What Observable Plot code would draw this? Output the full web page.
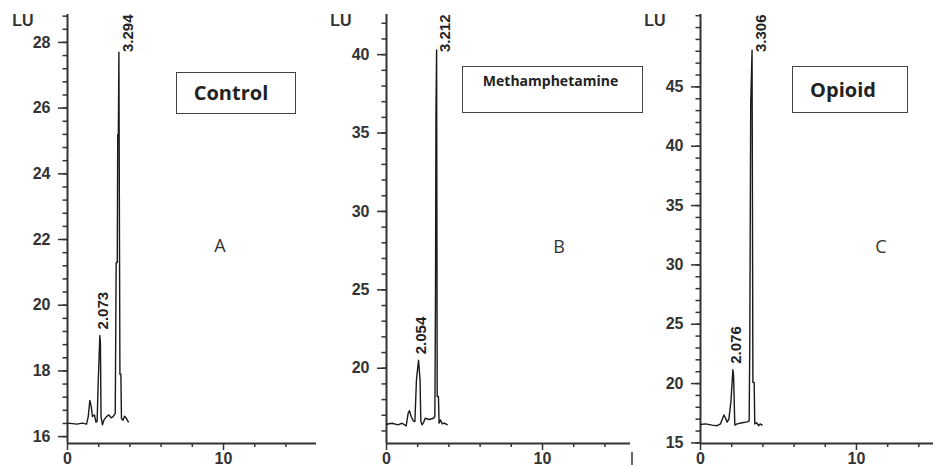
<!DOCTYPE html>
<html><head><meta charset="utf-8">
<script src="https://cdn.jsdelivr.net/npm/d3@7"></script>
<script src="https://cdn.jsdelivr.net/npm/@observablehq/plot@0.6"></script>
<style>
body{margin:0;background:#fff;}
#wrap{position:relative;width:933px;height:467px;overflow:hidden;background:#fff;}
.panel{position:absolute;top:0;}
.box{position:absolute;border:1.5px solid #444;box-sizing:border-box;font-family:"Open Sans",sans-serif;font-weight:700;color:#222;display:flex;justify-content:center;align-items:center;line-height:1.2;}
.lu{position:absolute;font-family:"Liberation Sans",Arial,sans-serif;font-weight:700;font-size:16px;line-height:1;color:#333;transform:translate(-50%,-50%);}
.letter{position:absolute;font-family:"Open Sans",sans-serif;font-size:18px;line-height:1;color:#333;transform:translate(-50%,-50%);}
.stray{position:absolute;background:#666;}
</style></head><body><div id="wrap"></div>
<script>
// ---- data ----
const panelNames = ["Control", "Methamphetamine", "Opioid"];
const panelLetters = ["A", "B", "C"];

const timeA = [0, 0.62, 0.94, 1.22, 1.33, 1.43, 1.52, 1.60, 1.73, 1.82, 1.90, 1.96, 2.073, 2.11, 2.15, 2.24, 2.34, 2.50, 2.65, 2.79, 2.92, 3.06, 3.12, 3.19, 3.22, 3.26, 3.294, 3.36, 3.42, 3.46, 3.55, 3.66, 3.78, 3.90];
const signalA = [16.41, 16.38, 16.41, 16.38, 16.61, 17.10, 16.92, 16.61, 16.66, 16.44, 16.46, 17.53, 19.08, 18.85, 16.60, 16.36, 16.51, 16.61, 16.66, 16.57, 16.61, 16.71, 21.3, 21.3, 25.2, 25.2, 27.7, 17.9, 17.9, 16.55, 16.50, 16.62, 16.55, 16.45];

const timeB = [0, 0.36, 0.73, 1.0, 1.26, 1.39, 1.47, 1.58, 1.71, 1.82, 1.92, 2.054, 2.15, 2.20, 2.28, 2.38, 2.48, 2.74, 3.01, 3.10, 3.14, 3.17, 3.212, 3.25, 3.33, 3.37, 3.46, 3.58, 3.70, 3.89];
const signalB = [16.43, 16.49, 16.39, 16.49, 16.33, 17.14, 17.29, 16.92, 16.65, 16.60, 19.27, 20.51, 19.27, 16.60, 16.39, 16.55, 16.81, 16.73, 16.81, 16.92, 24.3, 36.3, 40.3, 18.2, 18.2, 16.5, 16.7, 16.45, 16.5, 16.4];

const timeC = [0, 0.32, 0.75, 1.07, 1.28, 1.50, 1.60, 1.71, 1.82, 1.95, 2.076, 2.12, 2.20, 2.35, 2.67, 2.99, 3.12, 3.16, 3.22, 3.306, 3.36, 3.44, 3.48, 3.60, 3.72, 3.82, 3.95];
const signalC = [16.55, 16.6, 16.5, 16.45, 16.6, 17.35, 17.1, 16.75, 17.0, 18.47, 21.16, 20.7, 16.5, 16.6, 16.7, 16.77, 16.85, 23.3, 43.6, 48.1, 20.1, 20.1, 16.6, 16.7, 16.45, 16.6, 16.5];

const peakTimesA = [2.073, 3.294];
const peakTimesB = [2.054, 3.212];
const peakTimesC = [2.076, 3.306];

const yMajorA = [16, 18, 20, 22, 24, 26, 28];
const yMajorB = [20, 25, 30, 35, 40];
const yMajorC = [15, 20, 25, 30, 35, 40, 45];
const yMinorA = d3.range(16, 28.85, 0.4);
const yMinorB = d3.range(16, 42.5, 1);
const yMinorC = d3.range(15, 51.05, 1);
const xMajor = [0, 10];
const xMinor = [2, 4, 6, 8, 12, 14];

// ---- layout ----
const panels = [
  {left: 0,   width: 318, marginLeft: 67, marginRight: 2, xMax: 15.96, yDomain: [15.79, 28.85], time: timeA, signal: signalA, peakTimes: peakTimesA, yMajor: yMajorA, yMinor: yMinorA},
  {left: 318, width: 314, marginLeft: 68, marginRight: 2, xMax: 15.64, yDomain: [15.2, 42.56],  time: timeB, signal: signalB, peakTimes: peakTimesB, yMajor: yMajorB, yMinor: yMinorB},
  {left: 632, width: 301, marginLeft: 68, marginRight: 0, xMax: 14.94, yDomain: [14.95, 51.1],  time: timeC, signal: signalC, peakTimes: peakTimesC, yMajor: yMajorC, yMinor: yMinorC}
];

const wrap = document.getElementById("wrap");

panels.forEach(p => {
  const data = p.time.map((t, i) => ({t, v: p.signal[i]}));
  const peaks = p.peakTimes.map(pt => {
    const i = p.time.indexOf(pt);
    return {t: pt, v: p.signal[i], label: pt.toFixed(3)};
  });
  const small = peaks.slice(0, -1);
  const main = peaks.slice(-1);
  const svg = Plot.plot({
    width: p.width,
    height: 467,
    marginLeft: p.marginLeft,
    marginRight: p.marginRight,
    marginTop: 14,
    marginBottom: 24,
    x: {domain: [0, p.xMax]},
    y: {domain: p.yDomain},
    style: {background: "transparent", color: "#333", fontFamily: "Liberation Sans, Arial, sans-serif", fontSize: "16px", fontWeight: "bold", overflow: "visible"},
    marks: [
      Plot.axisY({ticks: p.yMinor, tickSize: 4.5, tickFormat: () => "", label: null, strokeWidth: 1.5}),
      Plot.axisY({ticks: p.yMajor, tickSize: 9, tickPadding: 8, tickFormat: d => String(d), label: null, strokeWidth: 1.5}),
      Plot.axisX({ticks: xMinor, tickSize: 4, tickFormat: () => "", label: null, strokeWidth: 1.5}),
      Plot.axisX({ticks: xMajor, tickSize: 7, tickPadding: 2, tickFormat: d => String(d), label: null, strokeWidth: 1.5}),
      Plot.ruleX([0], {stroke: "#333", strokeWidth: 2}),
      Plot.ruleY([p.yDomain[0]], {stroke: "#333", strokeWidth: 2}),
      Plot.line(data, {x: "t", y: "v", stroke: "#1a1a1a", strokeWidth: 1.4}),
      Plot.text(small, {x: "t", y: "v", text: "label", rotate: -90, textAnchor: "start", dx: 3, dy: -6, fontSize: 15, fill: "#222"}),
      Plot.text(main, {x: "t", frameAnchor: "top", text: "label", rotate: -90, textAnchor: "end", dx: 3, fontSize: 15, fill: "#222"})
    ]
  });
  svg.classList.add("panel");
  svg.style.left = p.left + "px";
  wrap.appendChild(svg);
});

// ---- annotations ----
function addDiv(cls, text, styles) {
  const d = document.createElement("div");
  d.className = cls;
  d.textContent = text;
  Object.assign(d.style, styles);
  wrap.appendChild(d);
  return d;
}
addDiv("lu", "LU", {left: "23px", top: "21px"});
addDiv("lu", "LU", {left: "341px", top: "21px"});
addDiv("lu", "LU", {left: "655px", top: "21px"});

addDiv("box", panelNames[0], {left: "176px", top: "72px", width: "120px", height: "42px", fontSize: "20px", paddingRight: "10px"});
addDiv("box", panelNames[1], {left: "462px", top: "66px", width: "181px", height: "47px", fontSize: "14px", paddingRight: "4px", alignItems: "flex-start", paddingTop: "6px"});
addDiv("box", panelNames[2], {left: "792px", top: "66px", width: "116px", height: "47px", fontSize: "20px", paddingRight: "14px"});

addDiv("letter", panelLetters[0], {left: "220px", top: "245px"});
addDiv("letter", panelLetters[1], {left: "559px", top: "246px"});
addDiv("letter", panelLetters[2], {left: "881px", top: "246px"});

addDiv("stray", "", {left: "631px", top: "452px", width: "1.5px", height: "13px"});
</script>
</body></html>
